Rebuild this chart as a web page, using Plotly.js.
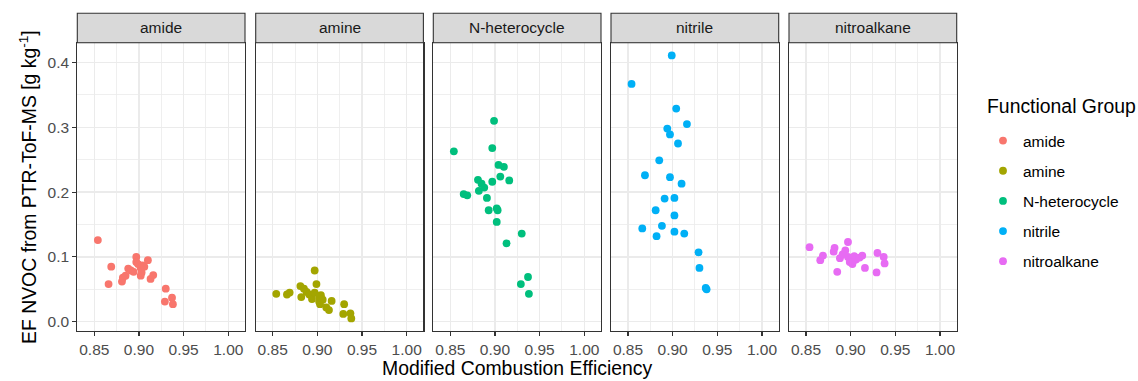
<!DOCTYPE html>
<html><head><meta charset="utf-8">
<script src="https://cdn.plot.ly/plotly-3.0.1.min.js"></script>
<style>html,body{margin:0;padding:0;background:#fff}#chart{width:1138px;height:381px}</style>
</head><body><div id="chart"></div>
<script>
// ---------- data ----------
const groups = ['amide', 'amine', 'N-heterocycle', 'nitrile', 'nitroalkane'];
const colors = ['#F8766D', '#A3A500', '#00BF7D', '#00B0F6', '#E76BF3'];

const amideMCE = [0.854,0.866,0.869,0.881,0.882,0.885,0.888,0.891,0.894,0.897,0.897,0.899,0.902,0.902,0.903,0.904,0.906,0.910,0.913,0.916,0.929,0.930,0.937,0.938];
const amideEF  = [0.126,0.058,0.085,0.062,0.068,0.071,0.082,0.079,0.077,0.100,0.092,0.089,0.071,0.083,0.076,0.087,0.085,0.095,0.066,0.072,0.031,0.051,0.037,0.027];

const amineMCE = [0.854,0.866,0.869,0.881,0.882,0.885,0.888,0.891,0.894,0.897,0.897,0.899,0.902,0.902,0.903,0.904,0.906,0.910,0.913,0.916,0.929,0.930,0.937,0.938];
const amineEF  = [0.043,0.042,0.045,0.055,0.038,0.051,0.046,0.042,0.035,0.079,0.045,0.058,0.031,0.039,0.027,0.041,0.034,0.022,0.018,0.032,0.012,0.027,0.013,0.005];

const hetMCE = [0.854,0.865,0.869,0.881,0.882,0.885,0.888,0.891,0.893,0.897,0.897,0.899,0.902,0.902,0.903,0.904,0.906,0.910,0.913,0.916,0.929,0.930,0.937,0.938];
const hetEF  = [0.263,0.197,0.195,0.219,0.202,0.213,0.207,0.191,0.172,0.268,0.216,0.310,0.175,0.154,0.172,0.242,0.224,0.239,0.121,0.218,0.058,0.136,0.069,0.043];

const nitrileMCE = [0.854,0.866,0.869,0.881,0.882,0.885,0.888,0.891,0.894,0.897,0.897,0.899,0.902,0.902,0.902,0.904,0.906,0.910,0.913,0.916,0.929,0.930,0.937,0.938];
const nitrileEF  = [0.367,0.144,0.226,0.172,0.132,0.249,0.148,0.190,0.298,0.289,0.223,0.411,0.191,0.164,0.139,0.329,0.275,0.213,0.136,0.305,0.107,0.083,0.052,0.050];

const nitroMCE = [0.854,0.866,0.869,0.881,0.882,0.885,0.888,0.891,0.894,0.897,0.897,0.899,0.902,0.902,0.903,0.904,0.906,0.910,0.913,0.916,0.929,0.930,0.937,0.938];
const nitroEF  = [0.115,0.095,0.102,0.108,0.114,0.077,0.098,0.104,0.110,0.123,0.100,0.092,0.089,0.098,0.094,0.101,0.096,0.099,0.102,0.083,0.076,0.106,0.100,0.090];

const xTicks = [0.85, 0.90, 0.95, 1.00];
const xTickText = ['0.85', '0.90', '0.95', '1.00'];
const xMinor = [0.875, 0.925, 0.975];
const yTicks = [0.0, 0.1, 0.2, 0.3, 0.4];
const yTickText = ['0.0', '0.1', '0.2', '0.3', '0.4'];
const yMinor = [0.05, 0.15, 0.25, 0.35];

const seriesX = [amideMCE, amineMCE, hetMCE, nitrileMCE, nitroMCE];
const seriesY = [amideEF, amineEF, hetEF, nitrileEF, nitroEF];

// ---------- layout geometry (pixels) ----------
const W = 1138, H = 381;
const FONT = 'Liberation Sans, Arial, Helvetica, sans-serif';
const panelLeft = [77.3, 255.7, 433.3, 611.0, 789.0];
const panelW = 167.7;
const plotTop = 42.7, plotBottom = 331.0, stripTop = 13.3;
const px = v => v / W;
const py = v => 1 - v / H;

const traces = [];
const layout = {
  width: W, height: H,
  margin: {l: 0, r: 0, t: 0, b: 0},
  paper_bgcolor: '#fff', plot_bgcolor: '#fff',
  font: {family: FONT, color: '#000'},
  showlegend: true,
  legend: {
    x: px(983), xanchor: 'left', y: py(124), yanchor: 'top',
    font: {size: 15.5, color: '#000'},
    traceorder: 'grouped', tracegroupgap: 7,
    bgcolor: 'rgba(0,0,0,0)', borderwidth: 0
  },
  shapes: [], annotations: []
};

groups.forEach((g, i) => {
  const s = i === 0 ? '' : String(i + 1);
  traces.push({
    type: 'scatter', mode: 'markers', name: g, legendgroup: g,
    x: seriesX[i], y: seriesY[i],
    xaxis: 'x' + s, yaxis: 'y' + s,
    marker: {color: colors[i], size: 7.8, line: {width: 0}},
    hoverinfo: 'x+y'
  });
  const l = panelLeft[i];
  layout['xaxis' + s] = {
    domain: [px(l), px(l + panelW)], range: [0.831, 1.0187], anchor: 'y' + s,
    tickmode: 'array', tickvals: xTicks, ticktext: xTickText,
    showgrid: true, gridcolor: '#EBEBEB', gridwidth: 1.4,
    minor: {tickmode: 'array', tickvals: xMinor, showgrid: true, gridcolor: '#EBEBEB', gridwidth: 0.8, ticks: ''},
    zeroline: false, showline: true, mirror: true, linecolor: '#333333', linewidth: 1.1,
    ticks: 'outside', ticklen: 4, tickwidth: 1.1, tickcolor: '#333333',
    tickfont: {size: 15.5, color: '#4D4D4D', family: FONT}, fixedrange: true
  };
  layout['yaxis' + s] = {
    domain: [py(plotBottom), py(plotTop)], range: [-0.01435, 0.4306], anchor: 'x' + s,
    tickmode: 'array', tickvals: yTicks, ticktext: yTickText,
    showgrid: true, gridcolor: '#EBEBEB', gridwidth: 1.4,
    minor: {tickmode: 'array', tickvals: yMinor, showgrid: true, gridcolor: '#EBEBEB', gridwidth: 0.8, ticks: ''},
    zeroline: false, showline: true, mirror: true, linecolor: '#333333', linewidth: 1.1,
    ticks: i === 0 ? 'outside' : '', ticklen: 4, tickwidth: 1.1, tickcolor: '#333333',
    showticklabels: i === 0,
    tickfont: {size: 15.5, color: '#4D4D4D', family: FONT}, fixedrange: true
  };
  layout.shapes.push({
    type: 'rect', xref: 'paper', yref: 'paper',
    x0: px(l), x1: px(l + panelW), y0: py(plotTop), y1: py(stripTop),
    fillcolor: '#D9D9D9', line: {color: '#333333', width: 1.1}
  });
  layout.annotations.push({
    text: g, xref: 'paper', yref: 'paper', x: px(l + panelW / 2), y: py((plotTop + stripTop) / 2),
    xanchor: 'center', yanchor: 'middle', showarrow: false,
    font: {size: 15.5, color: '#1A1A1A', family: FONT}
  });
});

layout.annotations.push({
  text: 'Functional Group', xref: 'paper', yref: 'paper',
  x: px(985), y: py(106), xanchor: 'left', yanchor: 'middle',
  showarrow: false, font: {size: 19.4, color: '#000', family: FONT}
});
layout.annotations.push({
  text: 'Modified Combustion Efficiency', xref: 'paper', yref: 'paper',
  x: px((panelLeft[0] + panelLeft[4] + panelW) / 2), y: py(368), xanchor: 'center', yanchor: 'middle',
  showarrow: false, font: {size: 19.4, color: '#000', family: FONT}
});
layout.annotations.push({
  text: 'EF NVOC from PTR-ToF-MS [g kg<sup>-1</sup>]', xref: 'paper', yref: 'paper',
  x: px(28), y: py(187), xanchor: 'center', yanchor: 'middle', textangle: -90,
  showarrow: false, font: {size: 19.4, color: '#000', family: FONT}
});

Plotly.newPlot('chart', traces, layout, {displayModeBar: false, staticPlot: true});
</script>
</body></html>
